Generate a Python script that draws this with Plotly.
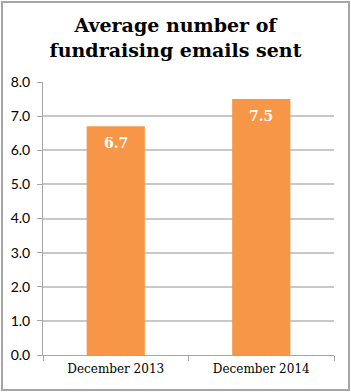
import plotly.graph_objects as go

categories = ["December 2013", "December 2014"]
values = [6.7, 7.5]
value_labels = ["6.7", "7.5"]
tick_vals = [0, 1, 2, 3, 4, 5, 6, 7, 8]
tick_text = ["0.0", "1.0", "2.0", "3.0", "4.0", "5.0", "6.0", "7.0", "8.0"]
title_text = "Average number of<br>fundraising emails sent"

W, H = 351, 392
L, R, T, B = 43, 17, 82, 37
pw, ph = W - L - R, H - T - B

fig = go.Figure()
fig.add_trace(go.Bar(
    x=categories, y=values,
    marker=dict(color="#F79646", line=dict(width=0)),
    width=0.4, hoverinfo="x+y",
))

annotations = [
    dict(x=c, y=v, text=t, xref="x", yref="y", showarrow=False,
         yanchor="middle", yshift=-17,
         font=dict(family="DejaVu Serif", size=14, color="white", weight="bold"))
    for c, v, t in zip(categories, values, value_labels)
]

def px(x):
    return (x - L) / pw

def py(y):
    return (H - B - y) / ph

fig.update_layout(
    width=W, height=H,
    margin=dict(l=L, r=R, t=T, b=B),
    paper_bgcolor="white", plot_bgcolor="white",
    showlegend=False,
    annotations=annotations,
    title=dict(text=title_text, x=0.5, xanchor="center", y=1 - 32 / H, yanchor="middle",
               font=dict(family="DejaVu Serif", size=19, color="black", weight="bold")),
    xaxis=dict(
        showline=True, linecolor="#a6a6a6", linewidth=1,
        ticks="outside", tickson="boundaries", ticklen=5, tickcolor="#a6a6a6",
        tickfont=dict(family="DejaVu Serif", size=12, color="black"),
        ticklabelstandoff=3,
        showgrid=False,
    ),
    yaxis=dict(
        range=[0, 8], tickvals=tick_vals, ticktext=tick_text,
        showline=True, linecolor="#a6a6a6", linewidth=1,
        ticks="outside", ticklen=5, tickcolor="#a6a6a6",
        tickfont=dict(family="Lato", size=14, color="black"),
        ticklabelstandoff=4,
        showgrid=True, gridcolor="#c8c8c8", gridwidth=1.5,
        zeroline=False, fixedrange=True,
    ),
    shapes=[dict(type="rect", xref="paper", yref="paper",
                 x0=px(2), x1=px(349), y0=py(390), y1=py(2),
                 line=dict(color="#a6a6a6", width=2), layer="below")],
)

fig.write_html("out.html")
